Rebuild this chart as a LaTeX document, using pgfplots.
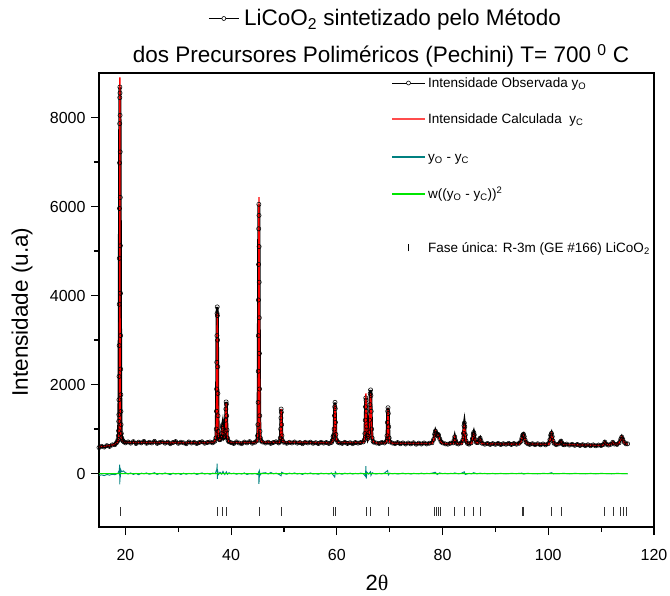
\documentclass[border=0pt]{standalone}
\usepackage{fontspec}
\setmainfont{Liberation Sans}
\newfontfamily\serifgreek{Liberation Serif}
\usepackage{pgfplots}
\pgfplotsset{compat=1.18}
\usepackage{pgfplotstable}

\definecolor{calcred}{RGB}{255,0,0}
\definecolor{diffteal}{RGB}{0,128,128}
\definecolor{wgreen}{RGB}{0,230,0}

\pgfplotstableread{
x y
15.0 585
15.5 612
16.0 596
16.5 628
17.0 610
17.5 645
18.0 650
18.3 690
18.5 725
18.6 770
18.66 850
18.70 960
18.73 1173
18.75 1323
18.77 1659
18.79 2182
18.81 2877
18.83 3804
18.85 4836
18.87 5957
18.89 6980
18.91 7863
18.93 8446
18.95 8684
18.97 8550
18.99 8049
19.01 7227
19.03 6204
19.05 5119
19.07 4051
19.09 3101
19.11 2347
19.13 1771
19.15 1397
19.18 1100
19.23 900
19.3 800
19.4 760
19.5 735
19.7 715
20.0 690
20.5 712
21.0 684
21.5 718
22.0 676
22.5 707
23.0 690
23.5 722
24.0 680
24.5 703
25.0 688
25.5 725
26.0 678
26.5 700
27.0 714
27.5 683
28.0 706
28.5 672
29.0 698
29.5 720
30.0 680
30.5 705
31.0 692
31.5 670
32.0 712
32.5 686
33.0 703
33.5 675
34.0 700
34.5 715
35.0 682
35.5 698
36.0 710
36.5 692
36.9 725
37.1 800
37.18 1000
37.22 1400
37.25 1900
37.28 2500
37.31 3100
37.34 3600
37.37 3745
37.40 3550
37.43 3000
37.46 2400
37.49 1800
37.52 1300
37.56 950
37.62 820
37.7 770
37.85 760
38.0 770
38.15 820
38.25 900
38.33 1050
38.4 1100
38.47 1020
38.56 880
38.66 810
38.78 830
38.88 950
38.95 1200
39.0 1450
39.05 1610
39.1 1560
39.15 1300
39.22 980
39.3 800
39.42 740
39.6 715
40.0 695
40.5 676
41.0 712
41.5 688
42.0 672
42.5 708
43.0 690
43.5 718
44.0 682
44.5 703
44.85 735
45.0 850
45.06 1100
45.1 1600
45.13 2300
45.15 3100
45.17 3900
45.19 4700
45.21 5500
45.24 6050
45.27 5800
45.29 5100
45.31 4300
45.33 3500
45.35 2700
45.38 1900
45.41 1300
45.46 950
45.53 800
45.65 740
45.9 710
46.5 686
47.0 705
47.5 678
48.0 700
48.5 715
49.0 688
49.2 722
49.3 800
49.37 1000
49.42 1250
49.46 1450
49.5 1380
49.55 1100
49.61 850
49.7 745
49.9 705
50.5 680
51.0 703
51.5 688
52.0 710
52.5 684
53.0 698
53.5 672
54.0 702
54.5 688
55.0 707
55.5 680
56.0 695
56.5 674
57.0 703
57.5 684
58.0 698
58.5 677
59.0 700
59.15 745
59.28 830
59.38 860
59.48 1000
59.55 1300
59.6 1500
59.65 1600
59.7 1460
59.75 1150
59.82 880
59.92 760
60.2 705
60.5 690
61.0 678
61.5 702
62.0 676
62.5 694
63.0 672
63.5 699
64.0 684
64.5 697
65.0 712
65.2 760
65.3 900
65.37 1200
65.42 1500
65.47 1700
65.52 1650
65.57 1400
65.64 1050
65.73 860
65.85 790
65.97 830
66.1 920
66.18 1200
66.26 1550
66.32 1800
66.38 1880
66.44 1750
66.5 1400
66.58 1000
66.68 800
66.85 725
67.0 705
67.5 686
68.0 676
68.5 700
69.0 688
69.35 722
69.48 850
69.56 1150
69.62 1400
69.68 1480
69.74 1350
69.81 1050
69.9 800
70.05 712
70.5 686
71.0 672
71.5 697
72.0 670
72.5 690
73.0 664
73.5 688
74.0 668
74.5 692
75.0 660
75.5 684
76.0 664
76.5 688
77.0 666
77.5 682
78.0 692
78.3 765
78.5 885
78.65 955
78.8 905
78.95 860
79.1 885
79.25 865
79.45 785
79.7 720
80.0 690
80.5 668
81.0 660
81.5 682
82.0 690
82.15 745
82.3 825
82.45 745
82.65 680
83.0 665
83.5 688
83.8 745
83.95 905
84.05 1080
84.12 1135
84.2 1050
84.3 870
84.45 732
84.7 678
85.0 662
85.4 690
85.65 785
85.8 885
85.9 925
86.0 870
86.15 765
86.4 700
86.7 698
86.95 765
87.1 795
87.25 742
87.5 680
88.0 660
88.5 678
89.0 655
89.5 674
90.0 657
90.5 678
91.0 652
91.5 672
92.0 658
92.5 679
93.0 654
93.5 675
94.0 660
94.5 682
94.8 722
95.0 795
95.15 862
95.3 885
95.45 832
95.6 762
95.8 702
96.1 672
96.5 655
97.0 672
97.5 650
98.0 670
98.5 646
99.0 667
99.5 645
100.0 672
100.3 762
100.45 862
100.6 905
100.75 832
100.9 732
101.1 680
101.5 650
102.0 667
102.25 702
102.4 728
102.55 692
102.8 655
103.0 646
103.5 663
104.0 640
104.5 658
105.0 635
105.5 655
106.0 632
106.5 650
107.0 628
107.5 647
108.0 626
108.5 645
109.0 624
109.5 642
110.0 630
110.4 652
110.7 708
111.0 660
111.4 640
111.8 657
112.2 703
112.5 664
113.0 655
113.4 692
113.7 772
113.9 822
114.1 772
114.4 700
114.7 668
115.0 668
}\obs

\pgfplotstableread{
x y
15.0 605
16.0 612
17.0 628
18.0 655
18.5 705
18.7 770
18.8 900
18.86 1300
18.9 2600
18.93 6000
18.95 8900
18.97 6000
19.0 2600
19.04 1300
19.1 900
19.2 780
19.5 720
20.0 700
25.0 698
30.0 695
35.0 694
36.8 705
37.1 800
37.2 1000
37.27 1700
37.32 2800
37.37 3610
37.42 2800
37.47 1700
37.53 1000
37.62 800
37.8 750
38.1 790
38.25 900
38.38 1080
38.5 950
38.65 820
38.85 850
38.95 1050
39.01 1400
39.06 1580
39.11 1400
39.18 1050
39.3 820
39.5 730
40.0 700
44.8 698
45.0 780
45.12 1200
45.19 3000
45.24 5800
45.26 6210
45.28 5800
45.35 3000
45.42 1200
45.54 780
45.8 710
49.2 698
49.35 850
49.42 1200
49.47 1450
49.53 1200
49.61 850
49.8 710
59.0 690
59.2 720
59.32 800
59.45 820
59.55 1100
59.62 1450
59.66 1550
59.7 1450
59.78 1050
59.92 760
60.2 700
65.1 698
65.3 850
65.4 1300
65.47 1750
65.5 1800
65.55 1650
65.63 1200
65.75 850
65.95 780
66.1 850
66.22 1200
66.32 1650
66.37 1800
66.43 1650
66.53 1200
66.66 830
66.9 720
67.2 690
69.4 688
69.55 820
69.63 1250
69.68 1460
69.74 1250
69.84 850
70.0 710
70.3 685
78.0 675
78.3 750
78.5 880
78.65 940
78.8 880
78.95 850
79.1 870
79.25 850
79.45 770
79.7 700
80.0 675
82.0 670
82.15 730
82.3 810
82.45 730
82.65 670
83.7 665
83.9 800
84.0 1000
84.1 1120
84.2 1000
84.3 830
84.5 700
85.5 670
85.7 780
85.85 890
85.95 880
86.1 770
86.4 690
86.8 690
86.95 750
87.1 780
87.25 730
87.5 670
94.6 660
94.9 730
95.1 830
95.3 870
95.45 820
95.65 740
96.0 670
100.1 655
100.35 760
100.6 890
100.8 800
101.05 690
101.4 655
102.15 660
102.4 720
102.6 665
103.0 650
110.3 635
110.55 680
110.7 700
110.9 665
111.5 640
112.0 665
112.2 700
112.4 670
113.2 660
113.5 710
113.75 790
113.9 820
114.1 760
114.4 690
114.8 665
115.0 660
}\calc

\pgfplotstableread{
x y
15.0 -40
15.5 -30
16.0 -45
16.5 -20
17.0 -35
17.5 -15
18.0 -25
18.6 10
18.85 80
18.9 200
18.93 -240
18.97 150
19.02 -100
19.1 90
19.3 40
19.6 60
20.0 20
20.5 -10
21.0 15
21.5 -20
22.0 5
22.5 -25
23.0 10
23.5 -5
24.0 15
24.5 -15
25.0 0
25.5 20
26.0 -20
26.5 5
27.0 -10
27.5 15
28.0 -5
28.5 -25
29.0 10
29.5 -10
30.0 5
30.5 -20
31.0 10
31.5 -15
32.0 5
32.5 -5
33.0 10
33.5 -20
34.0 0
34.5 15
35.0 -10
35.5 5
36.0 -15
36.5 10
37.0 0
37.3 100
37.36 226
37.4 -120
37.45 60
37.6 -20
37.9 30
38.2 -10
38.45 50
38.8 -20
39.1 40
39.3 -15
39.6 20
40.0 -5
40.5 10
41.0 -15
41.5 5
42.0 -10
42.5 15
43.0 -20
43.5 0
44.0 -10
44.5 5
45.0 -20
45.2 30
45.26 -230
45.32 -100
45.38 40
45.5 -30
45.8 10
46.5 20
47.0 -10
47.5 25
48.0 -5
48.5 10
49.0 -15
49.45 -50
49.55 30
50.0 5
50.5 -15
51.0 10
51.5 -5
52.0 15
52.5 -10
53.0 5
53.5 -20
54.0 10
54.5 -5
55.0 15
55.5 -10
56.0 0
56.5 -15
57.0 10
57.5 -5
58.0 5
58.5 -10
59.0 15
59.6 -80
59.7 40
60.0 -10
60.5 5
61.0 -15
61.5 10
62.0 -5
62.5 10
63.0 -10
63.5 5
64.0 -5
64.5 10
65.0 0
65.4 -60
65.5 166
65.56 -113
65.7 30
66.0 -10
66.35 40
66.45 -40
66.7 20
67.0 0
67.5 -10
68.0 5
68.5 -5
69.0 10
69.6 70
69.75 -30
70.0 10
70.5 -5
71.0 5
71.5 -10
72.0 0
72.5 10
73.0 -5
73.5 5
74.0 -10
74.5 5
75.0 0
75.5 -5
76.0 10
76.5 -5
77.0 5
77.5 0
78.0 10
78.6 30
79.0 -20
79.4 15
80.0 0
80.5 5
81.0 -5
81.5 5
82.0 0
82.3 15
83.0 -5
83.5 5
84.1 40
84.3 -20
85.0 5
85.5 -5
85.9 20
86.5 -5
87.1 10
87.5 0
88.0 5
88.5 -5
89.0 0
89.5 5
90.0 -5
91.0 5
92.0 -5
93.0 5
94.0 0
95.0 10
95.3 -10
96.0 5
97.0 0
98.0 -5
99.0 5
100.0 0
100.6 20
101.0 -5
102.0 0
103.0 5
104.0 -5
105.0 5
106.0 0
107.0 -5
108.0 5
109.0 -5
110.0 5
111.0 0
112.0 -5
113.0 5
114.0 0
115.0 -5
}\diff

\pgfplotstableread{
x y
15.0 0
18.8 0
18.95 12
19.1 0
37.3 0
37.4 8
37.5 0
45.2 0
45.27 10
45.35 0
115.0 0
}\wdiff

\pgfplotstableread{
x y
18.95 -850
37.4 -850
38.35 -850
39.05 -850
45.25 -850
49.5 -850
59.3 -850
59.65 -850
65.5 -850
66.4 -850
69.7 -850
78.5 -850
78.85 -850
79.2 -850
79.55 -850
82.3 -850
84.15 -850
85.9 -850
87.15 -850
95.0 -850
95.35 -850
100.6 -850
102.4 -850
110.7 -850
112.25 -850
113.6 -850
114.2 -850
114.85 -850
}\bragg

\begin{document}
\begin{tikzpicture}
\begin{axis}[
  scale only axis, width=555pt, height=454pt,
  xmin=15, xmax=120, ymin=-1200, ymax=9000,
  xtick={20,40,60,80,100,120}, ytick={0,2000,4000,6000,8000},
  minor x tick num=1, minor y tick num=1,
  tick align=outside, xtick pos=bottom, ytick pos=left,
  major tick length=8pt, minor tick length=5pt,
  axis line style={line width=1.4pt},
  every tick/.style={black, line width=1.2pt},
  tick label style={font=\fontsize{16}{19}\selectfont},
  /pgf/number format/assume math mode=true,
  /pgf/number format/set thousands separator={},
  xticklabel style={yshift=-11pt},
  yticklabel style={xshift=-2pt},
]
\coordinate (SW) at (rel axis cs:0,0);

\addplot[black, line width=2.8pt] table[x=x,y=y] {\obs};
\addplot[black, line width=0.55pt, only marks, mark=o, mark size=2.1pt] table[x=x,y=y] {\obs};
\addplot[calcred, line width=1.3pt] table[x=x,y=y] {\calc};
\addplot[diffteal, line width=0.9pt] table[x=x,y=y] {\diff};
\addplot[wgreen, line width=0.9pt] table[x=x,y=y] {\wdiff};
\addplot[black!80, only marks, mark=|, mark size=4.5pt, mark options={line width=0.7pt}] table[x=x,y=y] {\bragg};
\end{axis}

% legend (drawn by hand, positions relative to the lower-left corner of the axis)
\begin{scope}[shift={(SW)}, every node/.style={anchor=base west, inner sep=0pt, font=\fontsize{13.5}{15}\selectfont}]
  \draw[black, line width=0.9pt] (293pt,444pt) -- (326pt,444pt);
  \draw[black, fill=white, line width=0.6pt] (309.5pt,444pt) circle (2pt);
  \node at (329pt,439.5pt) {Intensidade Observada y\textsubscript{O}};
  \draw[calcred!70, line width=1.8pt] (293pt,408pt) -- (326pt,408pt);
  \node at (329pt,403.5pt) {Intensidade Calculada\ \ y\textsubscript{C}};
  \draw[diffteal, line width=1.3pt] (293pt,370pt) -- (326pt,370pt);
  \node at (329pt,365.5pt) {y\textsubscript{O} - y\textsubscript{C}};
  \draw[wgreen, line width=1.5pt] (293pt,333pt) -- (326pt,333pt);
  \node at (329pt,328.5pt) {w((y\textsubscript{O} - y\textsubscript{C}))\textsuperscript{2}};
  \draw[black, line width=0.8pt] (309.5pt,275.5pt) -- (309.5pt,283pt);
  \node at (329pt,274.5pt) {Fase única: R-3m (GE \#166) LiCoO\textsubscript{2}};
\end{scope}

\node[anchor=base, inner sep=0pt, font=\fontsize{22.5}{26}\selectfont] (t1) at ([xshift=303.5pt, yshift=501pt]SW) {LiCoO\textsubscript{2} sintetizado pelo Método};
\draw[line width=0.8pt] ([xshift=-35pt, yshift=7.5pt]t1.base west) -- ([xshift=-5pt,yshift=7.5pt]t1.base west);
\draw[fill=white, line width=0.6pt] ([xshift=-20pt, yshift=7.5pt]t1.base west) circle (2pt);
\node[anchor=base, inner sep=0pt, font=\fontsize{22.5}{26}\selectfont] at ([xshift=282pt, yshift=464pt]SW) {dos Precursores Poliméricos (Pechini) T= 700 \textsuperscript{0} C};
\node[rotate=90, inner sep=0pt, font=\fontsize{22.5}{26}\selectfont] at ([xshift=-77pt, yshift=215pt]SW) {Intensidade (u.a)};
\node[inner sep=0pt, font=\fontsize{22}{26}\selectfont] at ([xshift=278pt, yshift=-56pt]SW) {2{\serifgreek θ}};

\pgfresetboundingbox
\path[use as bounding box] ([xshift=-99pt,yshift=-68pt]SW) rectangle ([xshift=571pt,yshift=527pt]SW);
\end{tikzpicture}
\end{document}
